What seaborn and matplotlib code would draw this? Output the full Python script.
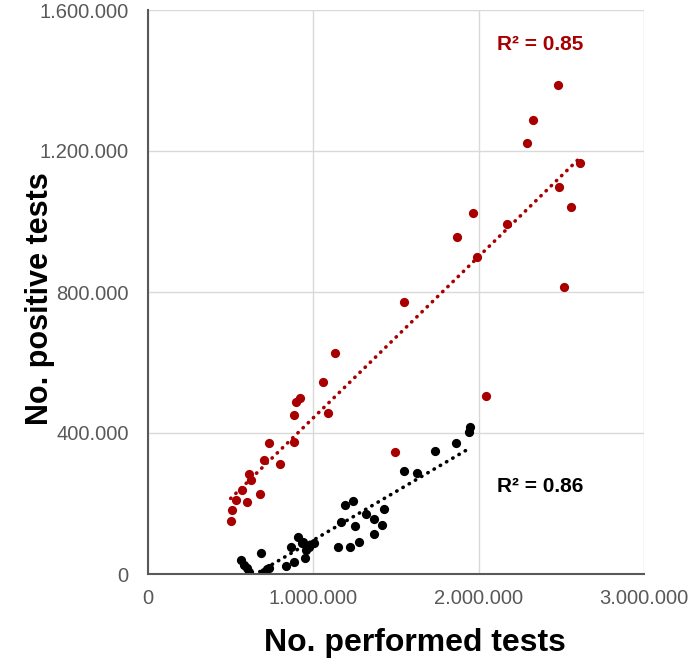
import numpy as np
import pandas as pd
import seaborn as sns
import matplotlib.pyplot as plt
from matplotlib.ticker import FuncFormatter

# Red series: performed tests vs positive tests
red_x = [2480000, 2327000, 2295000, 2615000, 2488000, 2559000, 1968000, 1871000,
         2174000, 1992000, 2519000, 1549000, 1133000, 1061000, 920000, 893000,
         885000, 1087000, 885000, 734000, 702000, 799000, 613000, 623000,
         567000, 532000, 678000, 597000, 508000, 500000, 1492000, 2047000]
red_y = [1386000, 1289000, 1222000, 1165000, 1099000, 1041000, 1023000, 956000,
         993000, 899000, 813000, 772000, 626000, 544000, 499000, 487000,
         450000, 458000, 375000, 372000, 323000, 311000, 283000, 267000,
         237000, 211000, 226000, 203000, 181000, 150000, 345000, 505000]

# Black series
black_x = [1948000, 1940000, 1863000, 1734000, 1549000, 1630000, 1190000, 1238000,
           1430000, 1317000, 1367000, 1168000, 1254000, 1416000, 1367000, 1279000,
           1149000, 1220000, 907000, 940000, 1004000, 972000, 954000, 863000,
           948000, 885000, 837000, 686000, 718000, 702000, 563000, 581000,
           597000, 613000, 734000, 930000]
black_y = [416000, 404000, 371000, 349000, 292000, 286000, 196000, 206000,
           184000, 170000, 157000, 148000, 135000, 139000, 113000, 91000,
           77000, 76000, 105000, 90000, 87000, 78000, 68000, 76000,
           46000, 35000, 24000, 60000, 13000, 7000, 40000, 26000,
           16000, 7000, 18000, 88000]

r2_labels = ["R\u00b2 = 0.85", "R\u00b2 = 0.86"]
x_ticks = [0, 1000000, 2000000, 3000000]
y_ticks = [0, 400000, 800000, 1200000, 1600000]

RED = "#a80000"
BLACK = "#000000"

sns.set_style("white")
plt.rcParams['font.family'] = ['Liberation Sans', 'DejaVu Sans']

fig = plt.figure(figsize=(6.89, 6.72), dpi=100)
ax = fig.add_axes([148 / 689, 1 - 574 / 672, 496 / 689, 564 / 672])

line_style = dict(linestyle=(0, (0.1, 1.9)), linewidth=2.6, dash_capstyle="round")
for xs, ys, col in [(red_x, red_y, RED), (black_x, black_y, BLACK)]:
    df = pd.DataFrame({"x": xs, "y": ys})
    sns.regplot(data=df, x="x", y="y", ax=ax, ci=None, truncate=True,
                scatter_kws=dict(s=44, color=col, linewidths=0, alpha=1, zorder=3),
                line_kws=dict(color=col, zorder=2, **line_style))

ax.set_xlim(0, 3000000)
ax.set_ylim(0, 1600000)
ax.set_xticks(x_ticks)
ax.set_yticks(y_ticks)
fmt = FuncFormatter(lambda v, p: f"{v:,.0f}".replace(",", "."))
ax.xaxis.set_major_formatter(fmt)
ax.yaxis.set_major_formatter(fmt)
ax.tick_params(axis="both", length=0, labelsize=14.5, labelcolor="#595959")
ax.tick_params(axis="x", pad=11)
ax.tick_params(axis="y", pad=14)

ax.grid(True, color="#d9d9d9", linewidth=1)
ax.set_axisbelow(True)
for side in ["top", "right"]:
    ax.spines[side].set_visible(False)
for side in ["left", "bottom"]:
    ax.spines[side].set_color("#595959")
    ax.spines[side].set_linewidth(1.5)
    ax.spines[side].set_zorder(4)

ax.set_xlabel("No. performed tests", fontsize=23, fontweight="bold", color="black")
ax.set_ylabel("No. positive tests", fontsize=22, fontweight="bold", color="black")
ax.xaxis.set_label_coords(0.538, -0.095)
ax.yaxis.set_label_coords(-0.187, 0.489)
ax.xaxis.label.set_va("top")

ax.text(2111000, 1501000, r2_labels[0], color=RED, fontsize=15, fontweight="bold",
        ha="left", va="center")
ax.text(2111000, 247000, r2_labels[1], color=BLACK, fontsize=15, fontweight="bold",
        ha="left", va="center")

fig.savefig("out.png", dpi=100)
